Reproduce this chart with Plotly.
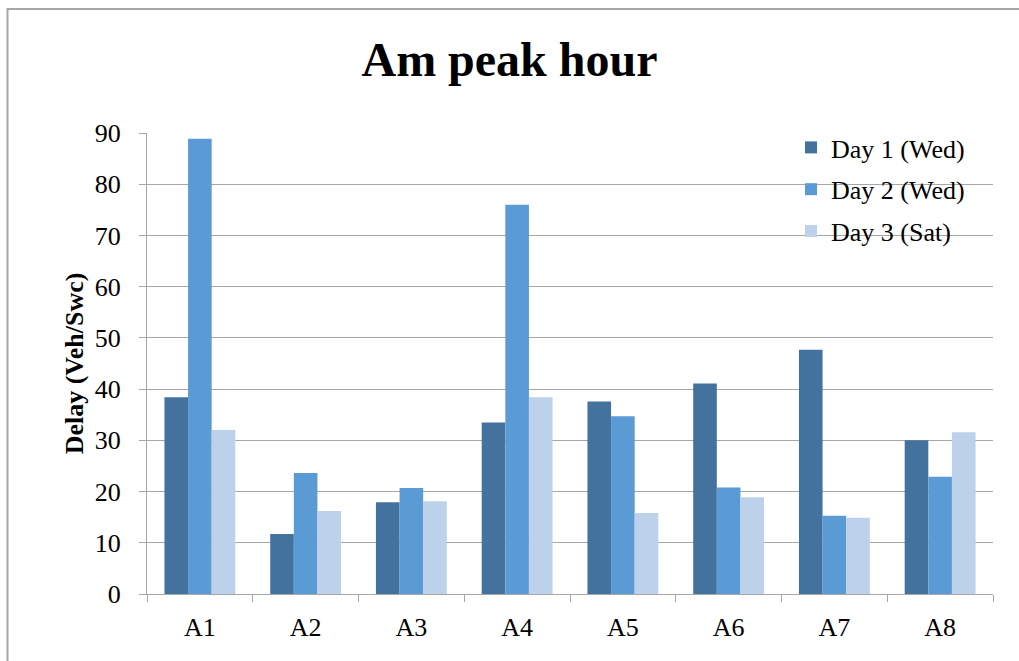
import plotly.graph_objects as go

categories = ["A1", "A2", "A3", "A4", "A5", "A6", "A7", "A8"]
day1_wed = [38.4, 11.7, 17.9, 33.5, 37.6, 41.1, 47.7, 30.0]
day2_wed = [88.9, 23.6, 20.7, 76.0, 34.7, 20.8, 15.3, 22.9]
day3_sat = [32.0, 16.2, 18.1, 38.4, 15.8, 18.9, 14.9, 31.6]

series_names = ["Day 1 (Wed)", "Day 2 (Wed)", "Day 3 (Sat)"]
series_colors = ["#43729E", "#5B9BD5", "#BDD1EA"]
y_ticks = [0, 10, 20, 30, 40, 50, 60, 70, 80, 90]

FONT = "Liberation Serif, Times New Roman, serif"

fig = go.Figure()
for i, (name, vals, col) in enumerate(zip(series_names, [day1_wed, day2_wed, day3_sat], series_colors)):
    fig.add_trace(go.Bar(x=categories, y=vals, name=name, legendgroup=f"g{i}",
                         marker=dict(color=col, line=dict(width=0))))

W, H = 1019, 661
ml, mr, mt, mb = 147, 26, 133, 67
pw, ph = W - ml - mr, H - mt - mb

fig.update_layout(
    width=W, height=H,
    margin=dict(l=ml, r=mr, t=mt, b=mb),
    paper_bgcolor="white", plot_bgcolor="white",
    barmode="group", bargap=0.33, bargroupgap=0,
    font=dict(family=FONT, size=26, color="black"),
    title=dict(text="<b>Am peak hour</b>", x=0.5, xanchor="center",
               y=1 - 59 / H, yanchor="middle",
               font=dict(family=FONT, size=48, color="black")),
    legend=dict(x=(791 - ml) / pw, xanchor="left", y=1 + (mt - 124) / ph, yanchor="top",
                bgcolor="rgba(0,0,0,0)", font=dict(family=FONT, size=26),
                itemwidth=30, tracegroupgap=5),
    showlegend=True,
)
fig.update_yaxes(range=[0, 90], tickvals=y_ticks, showgrid=True, gridcolor="#A6A6A6",
                 gridwidth=1, showline=True, linecolor="#A6A6A6", linewidth=1,
                 ticks="outside", ticklen=7, tickcolor="#A6A6A6",
                 ticklabelstandoff=13,
                 tickfont=dict(family=FONT, size=26), zeroline=False,
                 title=dict(text="<b>Delay (Veh/Swc)</b>", standoff=3,
                            font=dict(family=FONT, size=26)))
fig.update_xaxes(showline=True, linecolor="#A6A6A6", linewidth=1,
                 ticks="outside", ticklen=7, tickcolor="#A6A6A6",
                 tickson="boundaries", showgrid=False, ticklabelstandoff=10,
                 tickfont=dict(family=FONT, size=26))

# outer chart border (top and left visible, extends past right/bottom)
fig.add_shape(type="rect", xref="paper", yref="paper",
              x0=(7.5 - ml) / pw, x1=(W + 5 - ml) / pw,
              y0=-(H + 5 - mt - ph) / ph, y1=1 + (mt - 9) / ph,
              line=dict(color="#A6A6A6", width=2), fillcolor="rgba(0,0,0,0)",
              layer="below")

fig.write_html("out.html", config={"displayModeBar": False},
               post_script="document.body.style.margin='0';")
